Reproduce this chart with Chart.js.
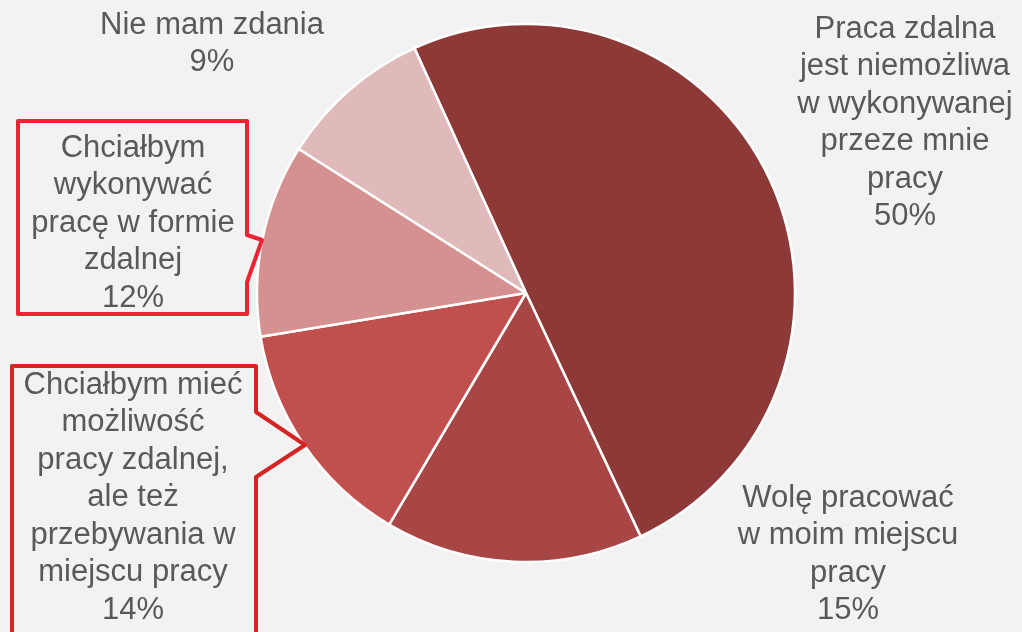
<!DOCTYPE html>
<html>
<head>
<meta charset="utf-8">
<script src="https://cdn.jsdelivr.net/npm/chart.js@4"></script>
<style>
  html, body { margin: 0; padding: 0; background: #f2f2f2; }
  #wrap { width: 1022px; height: 632px; }
</style>
</head>
<body>
<div id="wrap"><canvas id="pieChart" width="1022" height="632"></canvas></div>
<script>
// data
const labels = [
   ['Praca zdalna', 'jest niemożliwa', 'w wykonywanej', 'przeze mnie', 'pracy'],
   ['Wolę pracować', 'w moim miejscu', 'pracy'],
   ['Chciałbym mieć', 'możliwość', 'pracy zdalnej,', 'ale też', 'przebywania w', 'miejscu pracy'],
   ['Chciałbym', 'wykonywać', 'pracę w formie', 'zdalnej'],
   ['Nie mam zdania']
];
const values = [49.8, 15.5, 13.9, 11.6, 9.2];
const percentLabels = ['50%', '15%', '14%', '12%', '9%'];
const colors = ['#8d3937', '#a84646', '#c0504e', '#d4918f', '#e0baba'];

// where each label block sits (centre x, first line y) and callout boxes
const labelPos = [
   { x: 905, y: 29 },
   { x: 848, y: 498 },
   { x: 133, y: 385 },
   { x: 133, y: 148 },
   { x: 212, y: 25 }
];
const callouts = {
   2: { color: '#d42424', pts: [[12, 366], [256, 366], [256, 412], [305, 445], [256, 477], [256, 640], [12, 640]] },
   3: { color: '#ee2233', pts: [[18, 121], [247, 121], [247, 235], [262, 240], [247, 282], [247, 314], [18, 314]] }
};

const labelPlugin = {
   id: 'pieLabels',
   afterDraw(chart) {
      const ctx = chart.ctx;
      ctx.save();
      for (const i in callouts) {
         const c = callouts[i];
         ctx.beginPath();
         c.pts.forEach((p, k) => k ? ctx.lineTo(p[0], p[1]) : ctx.moveTo(p[0], p[1]));
         ctx.closePath();
         ctx.lineWidth = 4;
         ctx.lineJoin = 'round';
         ctx.strokeStyle = c.color;
         ctx.stroke();
      }
      ctx.font = '31px "Liberation Sans", Arial, sans-serif';
      ctx.fillStyle = '#595959';
      ctx.textAlign = 'center';
      ctx.textBaseline = 'middle';
      labels.forEach((lines, i) => {
         const pos = labelPos[i];
         const all = lines.concat([percentLabels[i]]);
         all.forEach((t, k) => ctx.fillText(t, pos.x, pos.y + k * 37.5));
      });
      ctx.restore();
   }
};

new Chart(document.getElementById('pieChart').getContext('2d'), {
   type: 'pie',
   data: {
      labels: labels.map(l => l.join(' ')),
      datasets: [{
         data: values,
         backgroundColor: colors,
         borderColor: '#ffffff',
         borderWidth: 2.5,
         hoverOffset: 0
      }]
   },
   options: {
      responsive: false,
      animation: false,
      rotation: -24.5,
      radius: 269,
      layout: { padding: { left: 257, right: 227, top: 24, bottom: 70 } },
      plugins: { legend: { display: false }, tooltip: { enabled: false } }
   },
   plugins: [labelPlugin]
});
</script>
</body>
</html>
